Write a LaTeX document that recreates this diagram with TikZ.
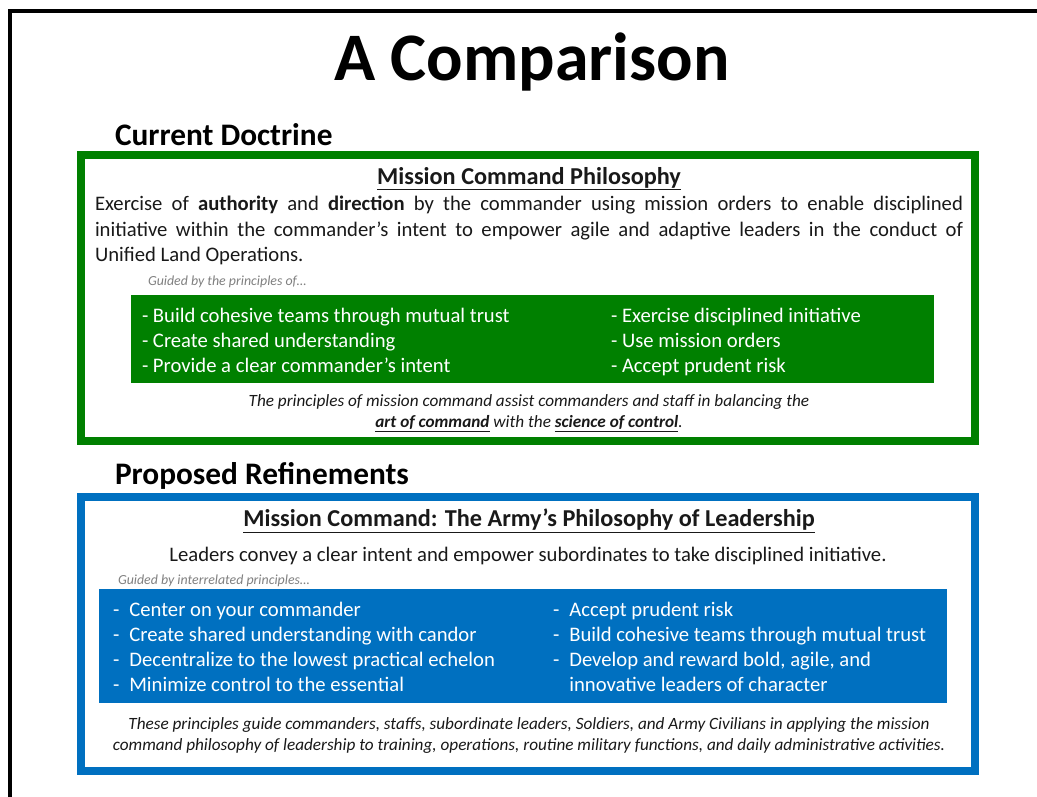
\documentclass[tikz,border=0pt]{standalone}
\usepackage{fontspec}
\setmainfont{Carlito}

\definecolor{docgreen}{RGB}{0,128,0}
\definecolor{refblue}{RGB}{0,112,192}
\definecolor{notegray}{RGB}{128,128,128}
\definecolor{inkdark}{RGB}{25,25,25}

\tikzset{
  heading/.style={anchor=base west, font=\fontsize{23.5}{26}\selectfont\bfseries, text=black},
  boxtitle/.style={anchor=base, font=\fontsize{18.2}{21}\selectfont\bfseries, text=inkdark},
  body/.style={anchor=base west, font=\fontsize{15.5}{19.2}\selectfont, text=inkdark},
  guide/.style={anchor=base west, font=\fontsize{10.4}{12}\selectfont\itshape, text=notegray},
  item/.style={anchor=base west, font=\fontsize{15.5}{18.75}\selectfont, text=white},
  caption/.style={anchor=base, font=\fontsize{12.9}{16}\selectfont\itshape, text=inkdark}
}

\begin{document}
\begin{tikzpicture}[x=0.75pt, y=-0.75pt, every node/.style={inner sep=0pt, outer sep=0pt}]

  \useasboundingbox (0,0) rectangle (1037,796);
  \fill [white] (0,0) rectangle (1037,796);

  % page frame
  \draw [line width=3pt] (1040,11) -- (10,11) -- (10,800);

  \node (title) [anchor=base, font=\fontsize{51}{56}\selectfont\bfseries] at (532,80) {A Comparison};

  % current doctrine
  \node (curhead) [heading] at (115,145.5) {Current Doctrine};
  \draw [docgreen, line width=6pt] (81,155) rectangle (975,441);
  \node (curtitle) [boxtitle] at (529,184) {\underline{Mission Command Philosophy}};
  \node (curtext) [body] at (95,210.5) {\begin{tabular}[t]{@{}l@{}}
      \makebox[651pt][s]{Exercise of \textbf{authority} and \textbf{direction} by the commander using mission orders to enable disciplined}\\
      \makebox[651pt][s]{initiative within the commander’s intent to empower agile and adaptive leaders in the conduct of}\\
      Unified Land Operations.
    \end{tabular}};
  \node (curguide) [guide] at (148,285.5) {Guided by the principles of…};
  \fill [docgreen] (131,295) rectangle (934,383);
  \node (curleft) [item] at (142,322) {\begin{tabular}[t]{@{}l@{}}
      - Build cohesive teams through mutual trust\\
      - Create shared understanding\\
      - Provide a clear commander's intent
    \end{tabular}};
  \node (curright) [item] at (611,322) {\begin{tabular}[t]{@{}l@{}}
      - Exercise disciplined initiative\\
      - Use mission orders\\
      - Accept prudent risk
    \end{tabular}};
  \node (curcap) [caption] at (529,406) {\begin{tabular}[t]{@{}c@{}}
      The principles of mission command assist commanders and staff in balancing the\\
      \textbf{\underline{art of command}} with the \textbf{\underline{science of control}}.
    \end{tabular}};

  % proposed refinements
  \node (prophead) [heading] at (115,484.5) {Proposed Refinements};
  \draw [refblue, line width=6pt] (81,497) rectangle (975,771);
  \node (proptitle) [boxtitle] at (529,526.5) {\underline{Mission Command: The Army’s Philosophy of Leadership}};
  \node (proptext) [body, anchor=base] at (528,561.5) {Leaders convey a clear intent and empower subordinates to take disciplined initiative.};
  \node (propguide) [guide] at (118,584.5) {Guided by interrelated principles…};
  \fill [refblue] (99,589) rectangle (947,703);
  \node (propleft) [item] at (113,616) {\begin{tabular}[t]{@{}l@{\hspace{7.5pt}}l@{}}
      - & Center on your commander\\
      - & Create shared understanding with candor\\
      - & Decentralize to the lowest practical echelon\\
      - & Minimize control to the essential
    \end{tabular}};
  \node (propright) [item] at (553,616) {\begin{tabular}[t]{@{}l@{\hspace{7.5pt}}l@{}}
      - & Accept prudent risk\\
      - & Build cohesive teams through mutual trust\\
      - & Develop and reward bold, agile, and\\
        & innovative leaders of character
    \end{tabular}};
  \node (propcap) [caption] at (529,729.5) {\begin{tabular}[t]{@{}c@{}}
      These principles guide commanders, staffs, subordinate leaders, Soldiers, and Army Civilians in applying the mission\\
      command philosophy of leadership to training, operations, routine military functions, and daily administrative activities.
    \end{tabular}};

\end{tikzpicture}
\end{document}
